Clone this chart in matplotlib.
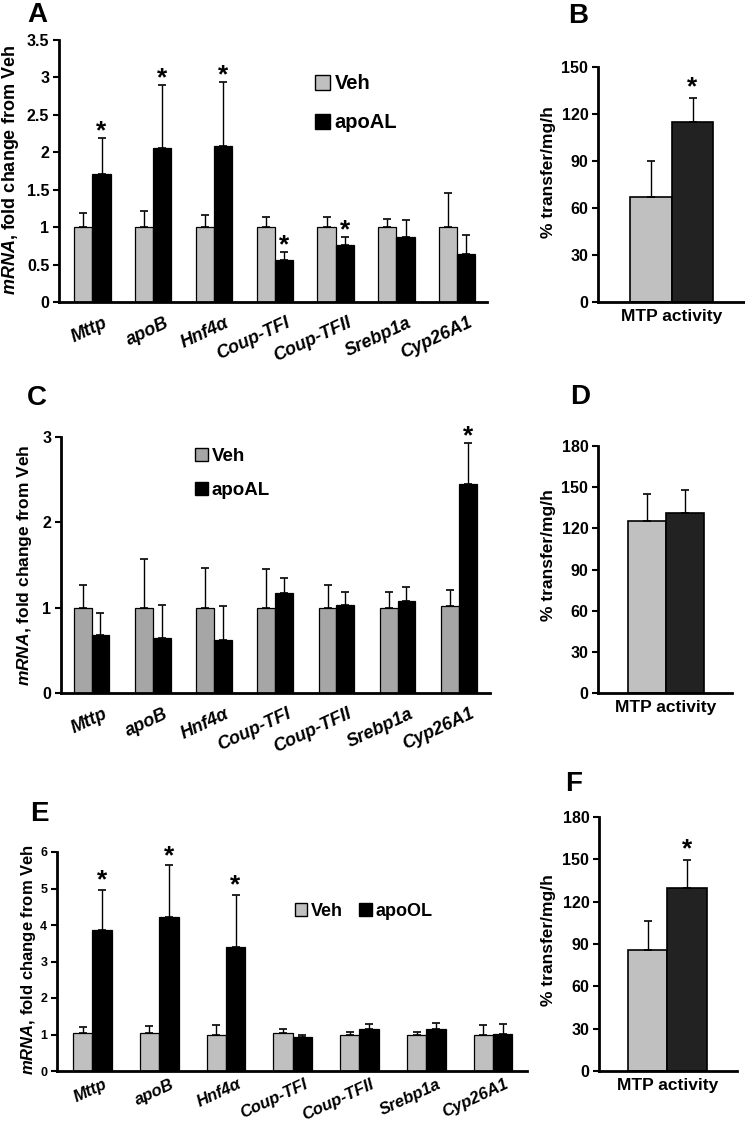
import numpy as np
import matplotlib.pyplot as plt
from matplotlib.patches import Patch
import matplotlib.transforms as mtransforms

plt.rcParams['font.family'] = ['Liberation Sans', 'DejaVu Sans']
plt.rcParams['font.weight'] = 'bold'
plt.rcParams['mathtext.fontset'] = 'custom'
plt.rcParams['mathtext.bfit'] = 'Liberation Sans:italic:bold'
plt.rcParams['mathtext.bf'] = 'Liberation Sans:bold'
plt.rcParams['mathtext.rm'] = 'Liberation Sans:bold'

W, H = 745, 1126

# genes on the x axis of panels A, C, E
genes = ['Mttp', 'apoB', 'Hnf4α', 'Coup-TFI', 'Coup-TFII', 'Srebp1a', 'Cyp26A1']

# panel A: apoAL, fold change (mean and upper SEM)
a_veh = [1.0, 1.0, 1.0, 1.0, 1.0, 1.0, 1.0]
a_veh_err = [0.19, 0.21, 0.16, 0.14, 0.14, 0.11, 0.46]
a_trt = [1.71, 2.06, 2.09, 0.56, 0.76, 0.87, 0.64]
a_trt_err = [0.48, 0.84, 0.85, 0.11, 0.11, 0.22, 0.26]
a_star = [True, True, True, True, True, False, False]

# panel B: MTP activity, apoAL
b_vals = [67, 115]
b_err = [23, 15]
b_star = [False, True]

# panel C: apoAL, second tissue
c_veh = [1.0, 1.0, 1.0, 1.0, 1.0, 1.0, 1.02]
c_veh_err = [0.27, 0.57, 0.47, 0.45, 0.26, 0.18, 0.19]
c_trt = [0.68, 0.64, 0.625, 1.17, 1.03, 1.08, 2.45]
c_trt_err = [0.26, 0.39, 0.40, 0.18, 0.15, 0.16, 0.48]
c_star = [False, False, False, False, False, False, True]

# panel D: MTP activity
d_vals = [125, 131]
d_err = [20, 17]
d_star = [False, False]

# panel E: apoOL
e_veh = [1.03, 1.03, 1.0, 1.03, 1.0, 0.98, 0.98]
e_veh_err = [0.17, 0.21, 0.27, 0.13, 0.06, 0.10, 0.28]
e_trt = [3.87, 4.23, 3.39, 0.93, 1.14, 1.14, 1.02]
e_trt_err = [1.10, 1.41, 1.44, 0.06, 0.16, 0.17, 0.26]
e_star = [True, True, True, False, False, False, False]

# panel F: MTP activity, apoOL
f_vals = [86, 130]
f_err = [20, 19.5]
f_star = [False, True]


def px_rect(left, right, top, bottom):
    """Convierte un rectángulo en píxeles a coordenadas de figura."""
    return [left / W, 1 - bottom / H, (right - left) / W, (bottom - top) / H]


def style_axes(ax, tick_size):
    for s in ['top', 'right']:
        ax.spines[s].set_visible(False)
    for s in ['left', 'bottom']:
        ax.spines[s].set_linewidth(2)
    ax.tick_params(axis='y', direction='out', length=4, width=1.5,
                   labelsize=tick_size, pad=3)
    ax.tick_params(axis='x', length=0)


def draw_errs(ax, x, vals, errs):
    ax.errorbar(x, vals, yerr=[np.zeros(len(vals)), errs], fmt='none',
                ecolor='black', elinewidth=1, capsize=3, capthick=1.2)


def draw_stars(ax, x, vals, errs, stars, off_px, size=19):
    # el asterisco se coloca por su línea base, unos píxeles sobre la barra de error
    for xi, v, e, s in zip(x, vals, errs, stars):
        if s:
            ax.annotate('*', xy=(xi, v + e), xytext=(0, off_px * 0.72),
                        textcoords='offset points', ha='center', va='baseline',
                        fontsize=size, fontweight='bold', annotation_clip=False)


def gene_panel(fig, rect, veh, veh_err, trt, trt_err, stars, ylim, yticks,
               xlim, width, veh_color, tick_size, xlab_size, star_off, xpad=9):
    ax = fig.add_axes(rect)
    x = np.arange(len(genes))
    ax.bar(x - width / 2, veh, width, color=veh_color, edgecolor='black', linewidth=0.9)
    ax.bar(x + width / 2, trt, width, color='black', edgecolor='black', linewidth=0.9)
    draw_errs(ax, x - width / 2, veh, veh_err)
    draw_errs(ax, x + width / 2, trt, trt_err)
    draw_stars(ax, x + width / 2, trt, trt_err, stars, star_off)
    ax.set_xlim(*xlim)
    ax.set_ylim(*ylim)
    ax.set_yticks(yticks)
    ax.set_yticklabels([f'{t:g}' for t in yticks])
    ax.set_xticks(x)
    ax.set_xticklabels(genes, rotation=25, ha='right', rotation_mode='anchor',
                       fontsize=xlab_size, fontstyle='italic', fontweight='bold')
    style_axes(ax, tick_size)
    ax.tick_params(axis='x', pad=xpad)
    shift = mtransforms.ScaledTranslation(11 / 100, 0, fig.dpi_scale_trans)
    for lab in ax.get_xticklabels():
        lab.set_transform(lab.get_transform() + shift)
    return ax


def mtp_panel(fig, rect, vals, errs, stars, ylim, yticks, xlim, star_off):
    ax = fig.add_axes(rect)
    x = np.array([-0.5, 0.5])
    ax.bar(x, vals, 1.0, color=['#c0c0c0', '#222222'], edgecolor='black', linewidth=1.2)
    draw_errs(ax, x, vals, errs)
    draw_stars(ax, x, vals, errs, stars, star_off)
    ax.set_xlim(*xlim)
    ax.set_ylim(*ylim)
    ax.set_yticks(yticks)
    ax.set_xticks([0])
    ax.set_xticklabels(['MTP activity'], fontsize=12.5, fontweight='bold')
    style_axes(ax, 11.5)
    ax.tick_params(axis='x', pad=5)
    return ax


fig = plt.figure(figsize=(W / 100, H / 100), dpi=100)

ylab = r'$\mathbfit{mRNA}$, fold change from Veh'

# ---- A ----
axA = gene_panel(fig, px_rect(59, 487, 40, 302), a_veh, a_veh_err, a_trt, a_trt_err,
                 a_star, (0, 3.5), np.arange(0, 3.51, 0.5), (-0.55, 6.49), 0.3,
                 '#c0c0c0', 11.5, 13, 0)
axA.legend(handles=[Patch(facecolor='#c0c0c0', edgecolor='black', label='Veh'),
                    Patch(facecolor='black', edgecolor='black', label='apoAL')],
           loc='upper left', bbox_to_anchor=(0.58, 0.9), frameon=False,
           fontsize=14.5, handlelength=0.75, handleheight=0.75, handletextpad=0.2,
           labelspacing=1.0, borderaxespad=0)
fig.text(11 / W, 1 - 170 / H, ylab, rotation=90, ha='center', va='center', fontsize=13)

# ---- B ----
mtp_panel(fig, px_rect(598, 745, 67, 302), b_vals, b_err, b_star, (0, 150),
          np.arange(0, 151, 30), (-1.77, 1.76), 4)
fig.text(549 / W, 1 - 172 / H, '% transfer/mg/h', rotation=90, ha='center',
         va='center', fontsize=12.5)

# ---- C ----
axC = gene_panel(fig, px_rect(61, 490, 437, 693), c_veh, c_veh_err, c_trt, c_trt_err,
                 c_star, (0, 3), np.arange(0, 4, 1), (-0.5, 6.51), 0.29,
                 '#a6a6a6', 11.5, 13, 0)
axC.legend(handles=[Patch(facecolor='#a6a6a6', edgecolor='black', label='Veh'),
                    Patch(facecolor='black', edgecolor='black', label='apoAL')],
           loc='upper left', bbox_to_anchor=(0.295, 0.985), frameon=False,
           fontsize=13.5, handlelength=0.7, handleheight=0.7, handletextpad=0.2,
           labelspacing=0.9, borderaxespad=0)
fig.text(25 / W, 1 - 565 / H, ylab, rotation=90, ha='center', va='center', fontsize=12.5)

# ---- D ----
mtp_panel(fig, px_rect(598, 732, 446, 693), d_vals, d_err, d_star, (0, 180),
          np.arange(0, 181, 30), (-1.78, 1.74), 4)
fig.text(549 / W, 1 - 555 / H, '% transfer/mg/h', rotation=90, ha='center',
         va='center', fontsize=12.5)

# ---- E ----
axE = gene_panel(fig, px_rect(57, 527, 852, 1071), e_veh, e_veh_err, e_trt, e_trt_err,
                 e_star, (0, 6), np.arange(0, 7, 1), (-0.53, 6.51), 0.29,
                 '#c0c0c0', 9, 12, 2, xpad=4)
axE.legend(handles=[Patch(facecolor='#c0c0c0', edgecolor='black', label='Veh'),
                    Patch(facecolor='black', edgecolor='black', label='apoOL')],
           loc='center left', bbox_to_anchor=(0.49, 0.73), frameon=False, ncol=2,
           fontsize=13, handlelength=0.7, handleheight=0.7, handletextpad=0.2,
           columnspacing=0.9, borderaxespad=0)
fig.text(29 / W, 1 - 960 / H, ylab, rotation=90, ha='center', va='center', fontsize=12)

# ---- F ----
mtp_panel(fig, px_rect(599, 737, 817, 1071), f_vals, f_err, f_star, (0, 180),
          np.arange(0, 181, 30), (-1.72, 1.75), 4)
fig.text(549 / W, 1 - 940 / H, '% transfer/mg/h', rotation=90, ha='center',
         va='center', fontsize=12.5)

# letras de los paneles
for lab, (px, py) in {'A': (37, 15), 'B': (578, 16), 'C': (37, 398), 'D': (580, 397),
                      'E': (39, 814), 'F': (574, 784)}.items():
    fig.text(px / W, 1 - py / H, lab, ha='center', va='center', fontsize=20,
             fontweight='bold')

fig.savefig('out.png', dpi=100)
